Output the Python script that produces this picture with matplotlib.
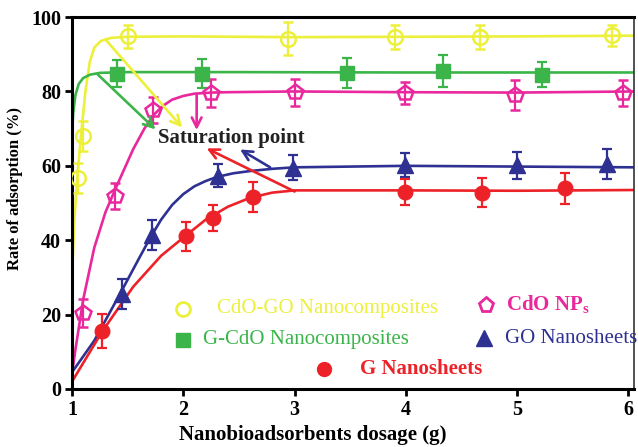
import matplotlib
matplotlib.use("Agg")
import matplotlib.pyplot as plt

plt.rcParams['font.family'] = ['Liberation Serif', 'DejaVu Serif']
plt.rcParams['mathtext.fontset'] = 'custom'
plt.rcParams['mathtext.rm'] = 'Liberation Serif'
plt.rcParams['mathtext.bf'] = 'Liberation Serif:bold'

# Measured points (dosage in g, adsorption in %, error)
cdogo_x = [1.05, 1.10, 1.50, 2.94, 3.90, 4.67, 5.85]
cdogo_y = [56.8, 68.0, 94.8, 94.2, 94.6, 94.6, 95.1]
cdogo_e = [4.0, 4.0, 3.0, 4.5, 3.2, 3.2, 2.9]

gcdo_x = [1.40, 2.17, 3.47, 4.33, 5.22]
gcdo_y = [84.8, 84.8, 85.0, 85.4, 84.5]
gcdo_e = [3.6, 4.0, 4.0, 4.3, 3.4]

cdo_x = [1.10, 1.39, 1.73, 2.25, 3.00, 3.99, 4.98, 5.95]
cdo_y = [20.4, 51.8, 75.0, 79.5, 79.8, 79.5, 79.0, 79.6]
cdo_e = [3.8, 3.5, 3.4, 3.8, 3.6, 3.0, 4.1, 3.6]

go_x = [1.45, 1.72, 2.31, 2.99, 3.99, 5.00, 5.81]
go_y = [25.6, 41.5, 57.4, 59.5, 60.2, 60.1, 60.4]
go_e = [4.0, 4.0, 3.0, 3.3, 3.2, 3.6, 4.0]

g_x = [1.27, 2.02, 2.27, 2.63, 3.99, 4.68, 5.43]
g_y = [15.6, 41.0, 46.0, 51.6, 53.0, 52.8, 54.0]
g_e = [4.5, 3.8, 3.5, 4.0, 3.4, 3.8, 4.2]

# Fitted trend curves
cdogo_fit_x = [1.0, 1.02, 1.05, 1.08, 1.12, 1.16, 1.20, 1.26, 1.35, 1.5, 2.0, 3.0, 4.0, 5.0, 6.05]
cdogo_fit_y = [30, 45, 58, 68, 80, 88, 91.8, 93.6, 94.4, 94.7, 94.8, 94.6, 94.7, 94.8, 95.0]

gcdo_fit_x = [1.0, 1.01, 1.03, 1.06, 1.10, 1.16, 1.25, 1.5, 2.5, 4.0, 6.05]
gcdo_fit_y = [68, 74, 79, 82, 83.6, 84.5, 85.0, 85.2, 85.2, 85.1, 85.1]

cdo_fit_x = [1.0, 1.03, 1.10, 1.20, 1.30, 1.40, 1.55, 1.65, 1.73, 1.82, 1.90, 2.00, 2.10, 2.25, 2.40, 3.0, 4.0, 5.0, 6.05]
cdo_fit_y = [4, 10.5, 24, 38, 47.5, 54.5, 64.5, 70.0, 73.6, 76.2, 77.8, 78.8, 79.4, 79.7, 79.8, 80.0, 79.8, 79.7, 80.0]

go_fit_x = [1.0, 1.2, 1.43, 1.6, 1.7, 1.8, 1.9, 2.0, 2.1, 2.2, 2.3, 2.45, 2.6, 2.8, 3.0, 4.0, 5.0, 6.05]
go_fit_y = [4.5, 13, 25.5, 35, 40.5, 45.5, 49.5, 52.4, 54.5, 55.9, 57.0, 58.0, 58.6, 59.2, 59.6, 60.0, 59.8, 59.6]

g_fit_x = [1.0, 1.27, 1.55, 1.8, 2.0, 2.2, 2.4, 2.6, 2.8, 3.0, 4.0, 5.0, 6.05]
g_fit_y = [2, 15.4, 27.5, 35.8, 40.7, 45.5, 49.0, 51.4, 52.8, 53.4, 53.4, 53.3, 53.5]

c_yellow = '#ecf03a'
c_green = '#3bb54a'
c_magenta = '#e8289c'
c_blue = '#2e3192'
c_red = '#ec2228'

fig = plt.figure(figsize=(6.38, 4.47), dpi=100)
ax = fig.add_axes([0.1129, 0.1298, 0.8808, 0.832])

lw = 1.9
ax.plot(cdogo_fit_x, cdogo_fit_y, color=c_yellow, lw=lw, zorder=2)
ax.plot(gcdo_fit_x, gcdo_fit_y, color=c_green, lw=lw, zorder=2)
ax.plot(cdo_fit_x, cdo_fit_y, color=c_magenta, lw=lw, zorder=2)
ax.plot(go_fit_x, go_fit_y, color=c_blue, lw=lw, zorder=2)
ax.plot(g_fit_x, g_fit_y, color=c_red, lw=lw, zorder=2)

eb = dict(ls='none', elinewidth=1.6, capsize=3.5, capthick=1.6, zorder=3)
ax.errorbar(cdogo_x, cdogo_y, yerr=cdogo_e, fmt='o', color=c_yellow, ms=10.5,
            mfc='none', mew=1.8, **eb)
ax.errorbar(gcdo_x, gcdo_y, yerr=gcdo_e, fmt='s', color=c_green, ms=10.5, **eb)
ax.errorbar(cdo_x, cdo_y, yerr=cdo_e, fmt='p', color=c_magenta, ms=11.5,
            mfc='none', mew=1.8, **eb)
ax.errorbar(go_x, go_y, yerr=go_e, fmt='^', color=c_blue, ms=11.5, **eb)
ax.errorbar(g_x, g_y, yerr=g_e, fmt='o', color=c_red, ms=10.5, **eb)

# Saturation point annotation
ax.text(2.434, 67.6, 'Saturation point', fontsize=15, fontweight='bold',
        ha='center', va='center', color='#222222', zorder=5)
arrows = [
    ((1.30, 94.0), (1.99, 70.3), c_yellow),
    ((1.23, 84.6), (1.75, 69.8), c_green),
    ((2.12, 79.0), (2.12, 69.6), c_magenta),
    ((3.00, 53.1), (2.21, 64.7), c_red),
    ((2.78, 59.6), (2.51, 64.4), c_blue),
]
for start, end, col in arrows:
    ax.annotate('', xy=end, xytext=start,
                arrowprops=dict(arrowstyle='->,head_length=0.7,head_width=0.35',
                                color=col, lw=1.9, shrinkA=0, shrinkB=0),
                zorder=4)

# Legend entries
fs_leg = 15
ax.plot([2.0], [21.6], 'o', ms=10, mfc='none', mec=c_yellow, mew=2, clip_on=False)
ax.text(2.30, 21.6, 'CdO-GO Nanocomposites', color=c_yellow, fontsize=fs_leg,
        va='center', ha='left')
ax.plot([2.0], [13.2], 's', ms=10, color=c_green, clip_on=False)
ax.text(2.18, 13.2, 'G-CdO Nanocomposites', color=c_green, fontsize=fs_leg,
        va='center', ha='left')
ax.plot([3.26], [5.4], 'o', ms=10, color=c_red, clip_on=False)
ax.text(3.59, 5.4, 'G Nanosheets', color=c_red, fontsize=fs_leg, fontweight='bold',
        va='center', ha='left')
ax.plot([4.72], [22.6], 'p', ms=11, mfc='none', mec=c_magenta, mew=2, clip_on=False)
ax.text(4.90, 22.6, r'CdO NP$_\mathbf{s}$', color=c_magenta, fontsize=fs_leg,
        fontweight='bold', va='center', ha='left')
ax.plot([4.70], [13.7], '^', ms=11, color=c_blue, clip_on=False)
ax.text(4.89, 13.7, 'GO Nanosheets', color=c_blue, fontsize=fs_leg,
        va='center', ha='left', clip_on=False)

ax.set_xlim(1, 6.05)
ax.set_ylim(0, 100)
ax.set_xticks([1, 2, 3, 4, 5, 6])
ax.set_yticks([0, 20, 40, 60, 80, 100])
ax.tick_params(direction='out', length=5, width=2, labelsize=14.5, pad=3)
for lab in ax.get_xticklabels() + ax.get_yticklabels():
    lab.set_fontweight('bold')

for side in ['left', 'bottom', 'top']:
    ax.spines[side].set_linewidth(2.2)
ax.spines['right'].set_linewidth(1.2)
ax.spines['right'].set_color('#333333')

ax.set_xlabel('Nanobioadsorbents dosage (g)', fontsize=15, fontweight='bold')
ax.xaxis.set_label_coords(0.428, -0.098)
ax.set_ylabel('Rate of adsorption (%)', fontsize=12, fontweight='bold')
ax.yaxis.set_label_coords(-0.087, 0.54)

fig.savefig('out.png', dpi=100)
